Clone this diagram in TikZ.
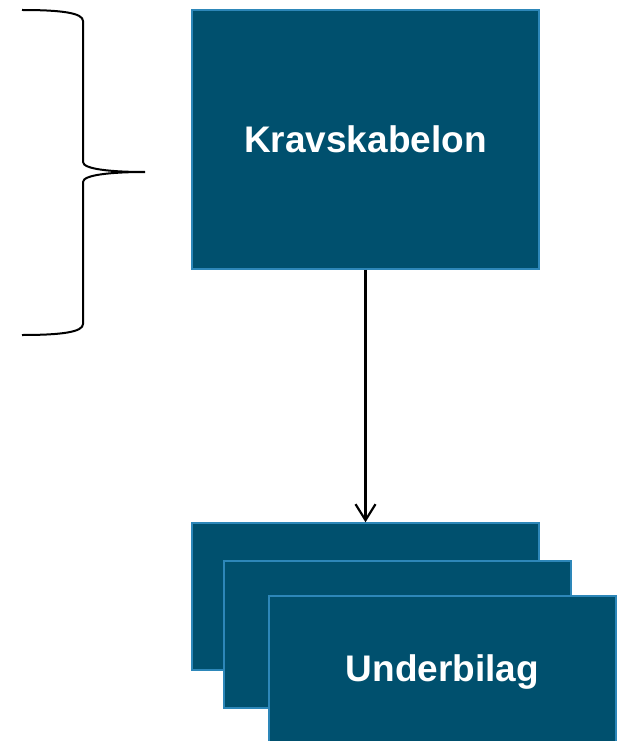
\documentclass[tikz,border=0pt]{standalone}
\usepackage{fontspec}
\setmainfont{Liberation Sans}
\usetikzlibrary{positioning,arrows.meta}
\definecolor{boxfill}{RGB}{0,80,110}
\definecolor{boxline}{RGB}{45,135,185}

\begin{document}
\begin{tikzpicture}[x=1pt,y=-1pt,
			bignode/.style={rectangle, draw=boxline, fill=boxfill, line width=1.5pt, inner sep=0pt, minimum width=347pt, minimum height=259pt, text=white, font=\fontsize{37}{44}\selectfont\bfseries},
			subnode/.style={rectangle, draw=boxline, fill=boxfill, line width=1.5pt, inner sep=0pt, minimum width=347pt, minimum height=147pt, text=white, font=\fontsize{37}{44}\selectfont\bfseries},
			]
			\useasboundingbox (0,0) rectangle (617,741);
			%Nodes
			\node[bignode] (krav) at (365.5,139.5) {Kravskabelon};

			\node[subnode] (sub1) at (365.5,596.5) {};
			\node[subnode] (sub2) at (397.5,634.5) {};
			\node[subnode, minimum height=152pt] (sub3) at (442.5,672) {Underbilag};

			%Arrow
			\draw[line width=2.2pt, -{Straight Barb[length=16pt,width=20pt,line width=2.2pt]}] (krav.south) -- (sub1.north);

			%Brace
			\draw[line width=2pt] (22,10) .. controls (62,10) and (83,13) .. (83,21) -- (83,162)
				.. controls (83,169) and (110,172) .. (145,172)
				.. controls (110,172) and (83,175) .. (83,182) -- (83,324)
				.. controls (83,332) and (62,335) .. (22,335);
		\end{tikzpicture}
\end{document}
